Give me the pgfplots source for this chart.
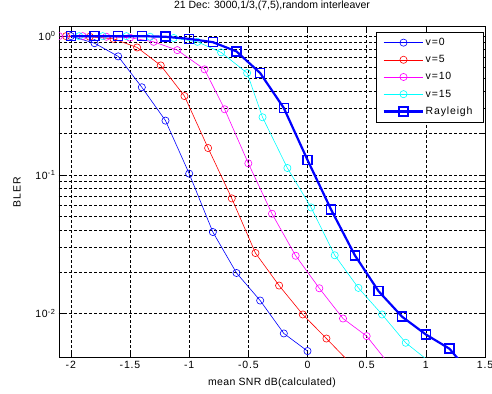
\documentclass[border=0pt]{standalone}
\usepackage{fontspec}
\setmainfont{Liberation Sans}
\usepackage{pgfplots}
\pgfplotsset{compat=1.18}
\definecolor{mmag}{rgb}{1,0,1}
\definecolor{mcyan}{rgb}{0,1,1}
\definecolor{mblue}{rgb}{0,0,1}
\definecolor{mred}{rgb}{1,0,0}
\newcommand{\wfont}{\fontsize{10.5}{12}\selectfont\addfontfeatures{LetterSpace=8}}
\begin{document}
\begin{tikzpicture}
\begin{axis}[
  name=ax,
  scale only axis,
  width=426pt, height=331pt,
  xmin=-2.1, xmax=1.5,
  ymode=log, ymin=0.0048, ymax=1.17,
  xtick={-2,-1.5,-1,-0.5,0,0.5,1,1.5},
  xticklabels={-2,-1.5,-1,-0.5,0,0.5,1,1.5},
  ytick={0.01,0.1,1},
  yticklabels={10\textsuperscript{-2},10\textsuperscript{-1},10\textsuperscript{0}},
  tick align=inside,
  major tick length=5pt, minor tick length=3pt,
  grid=both,
  major grid style={black, dash pattern=on 3pt off 2pt, line width=0.5pt},
  minor grid style={black, dash pattern=on 3pt off 2pt, line width=0.5pt},
  axis line style={black, line width=0.7pt},
  every tick/.style={black, line width=0.5pt},
  clip marker paths=true,
  tick label style={font=\wfont},
  title={21 Dec: 3000,1/3,(7,5),random interleaver},
  title style={at={(axis description cs:0.5,1.044)}, anchor=center, font=\fontsize{10.5}{12}\selectfont},
  xlabel={mean SNR dB(calculated)},
  xlabel style={at={(axis description cs:0.5,-0.0755)}, anchor=center, font=\fontsize{10.5}{12}\selectfont\addfontfeatures{LetterSpace=3}},
  ylabel={BLER},
  ylabel style={at={(axis description cs:-0.0986,0.5)}, anchor=center, font=\wfont},
  legend style={at={(rel axis cs:0.9977,0.985)}, anchor=north east, draw=black, fill=white, line width=0.7pt, font=\wfont, row sep=6pt, inner xsep=6pt, inner ysep=5pt, nodes={inner sep=1.2pt}},
  legend cell align=left,
  legend image code/.code={\draw[mark repeat=2,mark phase=2] plot coordinates {(0cm,0cm) (0.7cm,0cm) (1.4cm,0cm)};},
]
\addplot[mblue, line width=0.6pt, mark=o, mark size=3.6pt, mark options={solid}] coordinates {
(-2.0,1.0) (-1.8,0.89) (-1.6,0.715) (-1.4,0.428) (-1.2,0.246) (-1.0,0.102)
(-0.8,0.0387) (-0.6,0.0196) (-0.4,0.0124) (-0.2,0.00718) (0.0,0.00536)};
\addlegendentry{v=0}
\addplot[mred, line width=0.6pt, mark=o, mark size=3.6pt] coordinates {
(-2.04,1.0) (-1.84,0.99) (-1.64,0.957) (-1.44,0.829) (-1.24,0.615) (-1.04,0.370)
(-0.84,0.156) (-0.64,0.0676) (-0.44,0.0273) (-0.24,0.0159) (-0.04,0.00984)
(0.16,0.0066) (0.36,0.0044)};
\addlegendentry{v=5}
\addplot[mmag, line width=0.6pt, mark=o, mark size=3.6pt] coordinates {
(-2.1,1.0) (-1.9,1.0) (-1.7,0.99) (-1.5,0.975) (-1.3,0.91) (-1.1,0.793)
(-0.87,0.576) (-0.7,0.297) (-0.5,0.121) (-0.3,0.0524) (-0.1,0.0261)
(0.1,0.0152) (0.3,0.0092) (0.5,0.00687) (0.7,0.0042)};
\addlegendentry{v=10}
\addplot[mcyan, line width=0.6pt, mark=o, mark size=3.6pt] coordinates {
(-1.93,1.0) (-1.73,1.0) (-1.53,1.0) (-1.33,0.99) (-1.13,0.97) (-0.93,0.91)
(-0.73,0.764) (-0.51,0.542) (-0.38,0.26) (-0.17,0.112) (0.03,0.0582)
(0.23,0.0263) (0.43,0.0153) (0.63,0.00984) (0.83,0.00615) (1.03,0.0045)};
\addlegendentry{v=15}
\addplot[mblue, line width=2.2pt, mark=square, mark size=4.5pt, mark options={line width=1.6pt}] coordinates {
(-2.0,1.0) (-1.8,1.0) (-1.6,1.0) (-1.4,1.0) (-1.2,0.99) (-1.0,0.956)
(-0.8,0.905) (-0.6,0.776) (-0.4,0.542) (-0.2,0.303) (0.0,0.128) (0.2,0.056)
(0.4,0.0263) (0.6,0.0145) (0.8,0.00947) (1.0,0.00706) (1.2,0.00557) (1.4,0.0035)};
\addlegendentry{Rayleigh\hspace*{4pt}}
\end{axis}
\pgfresetboundingbox
\path ([shift={(-59pt,-36.3pt)}]ax.south west) rectangle ([shift={(7pt,26.7pt)}]ax.north east);
\end{tikzpicture}
\end{document}
